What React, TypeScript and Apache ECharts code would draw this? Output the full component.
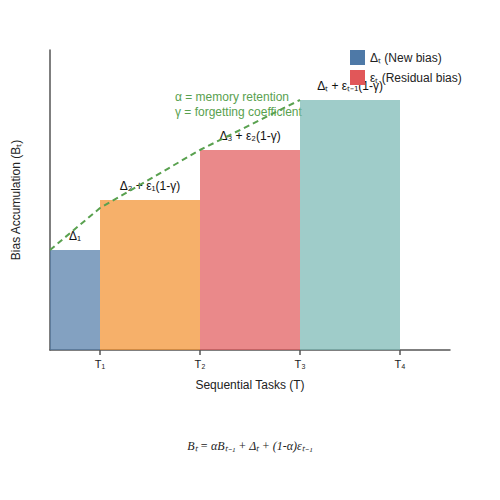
import { useEffect, useRef } from 'react';
import * as echarts from 'echarts';

// task steps: [start, end, accumulated bias]
const taskStarts = [0.5, 1, 2, 3];
const taskEnds = [1, 2, 3, 4];
const biasValues = [1.0, 1.5, 2.0, 2.5];
const barLabels = ['Δ₁', 'Δ₂ + ε₁(1-γ)', 'Δ₃ + ε₂(1-γ)', 'Δₜ + εₜ₋₁(1-γ)'];
const barColors = ['#4e79a7', '#f28e2b', '#e15759', '#76b7b2'];
const tickValues = [1, 2, 3, 4];
const tickLabels = ['T₁', 'T₂', 'T₃', 'T₄'];
// trend curve (dashed)
const trendX = [0.5, 1, 2, 3];
const trendY = [1.0, 1.42, 2.0, 2.5];
const legendNames = ['Δₜ (New bias)', 'εₜ (Residual bias)'];
const legendColors = ['#4e79a7', '#e15759'];

const FONT = "'Liberation Sans', Arial, sans-serif";

export default function App() {
  const chartRef = useRef<HTMLDivElement>(null);

  useEffect(() => {
    document.body.style.margin = '0';
    if (!chartRef.current) return;
    const chart = echarts.init(chartRef.current, undefined, { renderer: 'svg' });

    const barData = taskStarts.map((s, i) => [s, taskEnds[i], biasValues[i], i]);

    const option = {
      animation: false,
      backgroundColor: '#ffffff',
      textStyle: { fontFamily: FONT },
      grid: { left: 50, right: 50, top: 50, bottom: 150 },
      legend: {
        data: legendNames,
        orient: 'vertical',
        left: 350,
        top: 50,
        padding: 0,
        itemWidth: 15,
        itemHeight: 15,
        itemGap: 5,
        icon: 'rect',
        selectedMode: false,
        textStyle: { fontSize: 12, color: '#222', fontFamily: FONT },
      },
      xAxis: {
        type: 'value',
        min: 0.5,
        max: 4.5,
        name: 'Sequential Tasks (T)',
        nameLocation: 'middle',
        nameGap: 29,
        nameTextStyle: { fontSize: 12, color: '#222', fontFamily: FONT },
        axisLine: { lineStyle: { color: '#555', width: 1.5 } },
        axisTick: { show: true, customValues: tickValues, length: 5, lineStyle: { color: '#555', width: 1.5 } },
        axisLabel: {
          customValues: tickValues,
          margin: 8,
          fontSize: 11,
          color: '#222',
          formatter: (v: number) => tickLabels[tickValues.indexOf(v)] ?? '',
        },
        splitLine: { show: false },
      },
      yAxis: {
        type: 'value',
        min: 0,
        max: 3,
        name: 'Bias Accumulation (Bₜ)',
        nameLocation: 'middle',
        nameGap: 28,
        nameTextStyle: { fontSize: 12, color: '#222', fontFamily: FONT },
        axisLine: { show: true, lineStyle: { color: '#555', width: 1.5 } },
        axisTick: { show: false },
        axisLabel: { show: false },
        splitLine: { show: false },
      },
      series: [
        {
          type: 'custom',
          data: barData,
          z: 2,
          renderItem: (params: any, api: any) => {
            const tl = api.coord([api.value(0), api.value(2)]);
            const br = api.coord([api.value(1), 0]);
            const idx = api.value(3);
            return {
              type: 'rect',
              shape: { x: tl[0], y: tl[1], width: br[0] - tl[0], height: br[1] - tl[1] },
              style: { fill: barColors[idx], opacity: 0.7 },
              textContent: {
                style: { text: barLabels[idx], fill: '#111', fontSize: 12, fontFamily: FONT },
              },
              textConfig: { position: 'top', distance: 8 },
            };
          },
        },
        {
          type: 'line',
          data: trendX.map((x, i) => [x, trendY[i]]),
          smooth: false,
          symbol: 'none',
          z: 3,
          lineStyle: { color: '#59a14f', width: 2, type: [6, 4] },
        },
        ...legendNames.map((n, i) => ({
          name: n,
          type: 'bar',
          data: [],
          itemStyle: { color: legendColors[i] },
        })),
      ],
      graphic: [
        {
          type: 'text',
          left: 175,
          top: 89,
          style: {
            text: 'α = memory retention\nγ = forgetting coefficient',
            fill: '#59a14f',
            fontSize: 12,
            lineHeight: 15,
            fontFamily: FONT,
          },
        },
        {
          type: 'text',
          x: 250,
          y: 446,
          style: {
            text: '{i|Bₜ} {n|=} {i|αBₜ₋₁} {n|+} {i|Δₜ} {n|+} {i|(1-α)εₜ₋₁}',
            align: 'center',
            verticalAlign: 'middle',
            rich: {
              i: { fontStyle: 'italic', fontFamily: "'Liberation Serif', serif", fontSize: 12, fill: '#222' },
              n: { fontFamily: "'Liberation Serif', serif", fontSize: 12, fill: '#222' },
            },
          },
        },
      ],
    };

    chart.setOption(option);
    return () => {
      chart.dispose();
    };
  }, []);

  return <div ref={chartRef} style={{ width: 500, height: 500 }} />;
}
